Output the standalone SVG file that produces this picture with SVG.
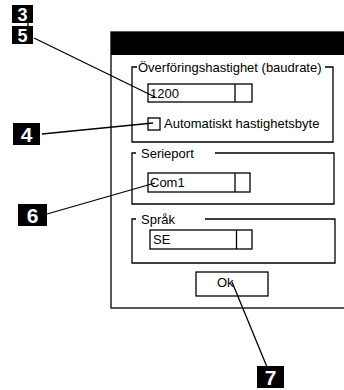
<svg xmlns="http://www.w3.org/2000/svg" width="344" height="390" viewBox="0 0 344 390">
<style>
.ln{stroke:#000;stroke-width:1.3;fill:none}
.fr{stroke:#000;stroke-width:1.3;fill:#fff}
.t{font-family:"Liberation Sans",Arial,sans-serif;font-size:13px;fill:#000}
.badge{fill:#000}
.bt{font-family:"Liberation Sans",Arial,sans-serif;font-weight:bold;fill:#fff;text-anchor:middle}
</style>
<rect width="344" height="390" fill="#fff"/>
<g id="window">
<rect class="fr" x="111" y="32" width="240" height="276"/>
<rect x="111" y="32" width="240" height="23" fill="#000"/>
</g>
<g id="group-baud">
<polyline class="ln" points="137,67 132,67 132,142 333,142 333,67 325,67"/>
<text class="t" x="138" y="72">Överföringshastighet (baudrate)</text>
</g>
<g id="field-1200">
<rect class="fr" x="148" y="84" width="104" height="18"/>
<line class="ln" x1="235" y1="84" x2="235" y2="102"/>
<text class="t" x="150" y="98">1200</text>
</g>
<g id="checkbox-auto">
<rect class="fr" x="148" y="118" width="12" height="12"/>
<text class="t" x="164" y="128">Automatiskt hastighetsbyte</text>
</g>
<g id="group-serial">
<polyline class="ln" points="136,153 132,153 132,204 334,204 334,153 215,153"/>
<text class="t" x="141" y="158">Serieport</text>
</g>
<g id="field-com1">
<rect class="fr" x="148" y="173" width="102" height="19"/>
<line class="ln" x1="235" y1="173" x2="235" y2="192"/>
<text class="t" x="150" y="187">Com1</text>
</g>
<g id="group-lang">
<polyline class="ln" points="136,219 132,219 132,263 335,263 335,219 205,219"/>
<text class="t" x="141" y="224">Språk</text>
</g>
<g id="field-se">
<rect class="fr" x="150" y="230" width="102" height="19"/>
<line class="ln" x1="236.5" y1="230" x2="236.5" y2="249"/>
<text class="t" x="153" y="244">SE</text>
</g>
<g id="button-ok">
<rect class="fr" x="196" y="272" width="72" height="24"/>
<text class="t" x="217" y="287">Ok</text>
</g>
<g id="connectors">
<line class="ln" x1="28" y1="22" x2="28" y2="27"/>
<line class="ln" x1="34" y1="38" x2="155" y2="97"/>
<line class="ln" x1="42" y1="134" x2="153" y2="123"/>
<line class="ln" x1="47" y1="214" x2="155" y2="183"/>
<line class="ln" x1="232" y1="282" x2="267" y2="367"/>
</g>
<g id="badge-3"><rect class="badge" x="12" y="5" width="21" height="18"/><text class="bt" x="22.5" y="21" font-size="18">3</text></g>
<g id="badge-5"><rect class="badge" x="12" y="26" width="21" height="18"/><text class="bt" x="22.5" y="42" font-size="18">5</text></g>
<g id="badge-4"><rect class="badge" x="13" y="123" width="27" height="22"/><text class="bt" x="26.5" y="142" font-size="21">4</text></g>
<g id="badge-6"><rect class="badge" x="18" y="204" width="29" height="22"/><text class="bt" x="32.5" y="223" font-size="21">6</text></g>
<g id="badge-7"><rect class="badge" x="257" y="366" width="27" height="22"/><text class="bt" x="270.5" y="385" font-size="21">7</text></g>
</svg>
